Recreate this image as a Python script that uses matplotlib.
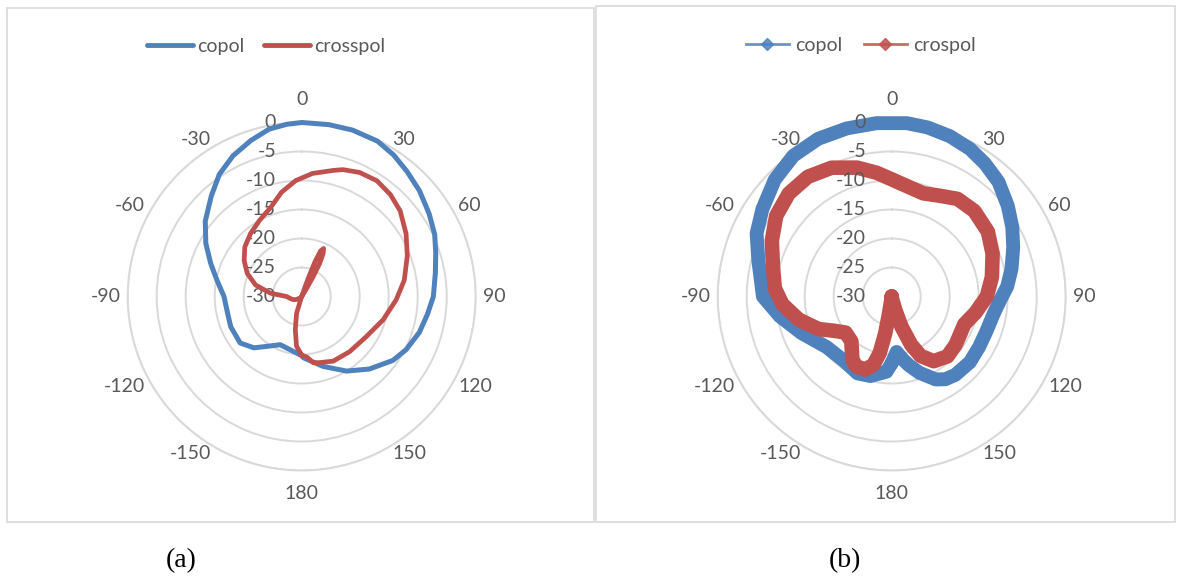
import numpy as np
import matplotlib.pyplot as plt
from matplotlib.lines import Line2D
from matplotlib.patches import Rectangle

# ---- data (angle in deg, level in dB) ----
a_copol_ang = [-180, -168, -156, -145, -137, -127, -113, -102, -90, -79, -70, -61, -52, -42,
               -34, -26, -18, -11, -5, 0, 9, 17, 26, 33, 40, 48, 57, 65, 72, 80, 90, 98,
               107, 117, 125, 137, 149, 163, 178, 180]
a_copol_db = [-19.8, -20.6, -20.9, -19.5, -17.9, -16.7, -16.7, -16.9, -16.6, -15.1, -13.3,
              -11.1, -8.9, -6.7, -4.6, -3.0, -1.7, -0.6, -0.2, 0.0, 0.0, 0.0, -0.2, -0.9,
              -1.8, -2.7, -3.8, -4.7, -5.7, -6.6, -7.3, -8.1, -8.8, -9.8, -10.8, -12.9,
              -15.0, -17.4, -19.4, -19.8]

a_cross_ang = [-180, -174, -169, -163, -161.5, -161, -160, -159, -157.5, -155.5, -153.5,
               -151.5, -150, -148.5, -146, -140, -130, -120, -112, -100, -90, -84, -76, -67,
               -58, -49, -39, -29, -19, -11, -3, 5, 14, 18, 25, 33, 41, 49, 59, 69, 81, 92,
               106, 122, 139, 154, 165, 170, 175, 180]
a_cross_db = [-19.9, -21.4, -24.2, -27.0, -29.8, -31.5, -34.0, -36.5, -38.5, -39.1, -38.3,
              -36.5, -34.0, -31.5, -30.2, -29.8, -29.6, -29.0, -28.5, -28.0, -27.4, -24.6,
              -21.8, -19.8, -18.3, -17.0, -16.0, -15.0, -13.7, -11.7, -10.0, -8.7, -7.6,
              -7.0, -6.4, -6.2, -6.7, -7.5, -9.0, -10.5, -12.1, -13.7, -15.4, -16.9, -17.4,
              -17.6, -18.2, -18.4, -19.5, -19.9]

b_copol_ang = [-180, -176, -165, -156, -143, -128, -112, -100, -90, -75, -65, -56, -45, -35,
               -25, -15, -5, 5, 12, 20, 28, 35, 43, 52, 60, 68, 77, 85, 92, 100, 110, 120,
               130, 141, 147, 152, 160, 166, 170, 175, 180]
b_copol_db = [-18.5, -17.0, -15.8, -15.5, -16.2, -15.8, -13.2, -10.4, -7.8, -6.2, -4.3, -3.1,
              -1.5, -0.4, 0.0, 0.0, 0.0, 0.0, -0.2, -0.6, -1.2, -2.0, -3.0, -4.6, -6.0, -7.4,
              -8.8, -10.0, -11.3, -12.2, -12.6, -12.6, -12.4, -12.6, -13.0, -13.8, -16.0,
              -17.8, -19.0, -20.4, -18.5]

b_cross_ang = [-180, -175, -171, -170, -168, -165, -160, -153, -148, -138, -128, -121, -114,
               -104, -94, -86, -76, -65, -55, -45, -35, -25, -15, -7, 0, 8, 17, 25, 34, 44,
               56, 67, 79, 90, 101, 111, 120, 127, 137, 147, 154, 158, 162, 165, 170, 175, 180]
b_cross_db = [-30.0, -29.5, -26.5, -23.5, -20.0, -17.8, -16.6, -16.5, -17.2, -19.6, -19.9,
              -18.5, -16.2, -13.5, -11.1, -9.8, -8.9, -7.2, -5.7, -4.9, -4.8, -5.5, -7.0,
              -8.5, -9.8, -10.8, -11.4, -10.8, -9.7, -9.5, -10.0, -11.1, -12.4, -13.6, -15.3,
              -16.6, -16.5, -16.2, -15.9, -16.7, -18.6, -21.0, -24.5, -27.5, -29.5, -30.0, -30.0]

theta_ticks = [0, 30, 60, 90, 120, 150, 180, 210, 240, 270, 300, 330]
theta_labels = ['0', '30', '60', '90', '120', '150', '180', '-150', '-120', '-90', '-60', '-30']
r_ticks = [0, -5, -10, -15, -20, -25, -30]

BLUE = '#4F81BD'
RED = '#C0504D'
GRID = '#D9D9D9'
TXT = '#595959'
RMIN, RMAX = -30, 0
W, H = 1179, 579
R_PX = 174

plt.rcParams['font.family'] = ['Lato', 'DejaVu Sans']


def radar(ang, db):
    # Excel radar: values under the axis minimum end up on the opposite side
    th = np.deg2rad(ang)
    db = np.asarray(db, float)
    low = db < RMIN
    return np.where(low, th + np.pi, th), np.where(low, 2 * RMIN - db, db)


def r_at(px):
    return RMIN + (RMAX - RMIN) * px / R_PX


def setup(ax, label_z):
    ax.set_theta_zero_location('N')
    ax.set_theta_direction(-1)
    ax.set_ylim(RMIN, RMAX)
    ax.set_yticks(r_ticks)
    ax.set_yticklabels([])
    ax.set_xticks(np.deg2rad(theta_ticks))
    ax.set_xticklabels([])
    ax.xaxis.grid(False)
    ax.yaxis.grid(True, color=GRID, lw=1.4)
    ax.spines['polar'].set_color(GRID)
    ax.spines['polar'].set_linewidth(1.4)
    ax.tick_params(length=0)
    for a, s in zip(theta_ticks, theta_labels):
        if a in (0, 180):
            ha, rpx = 'center', 197
        elif a < 180:
            ha, rpx = 'left', 181
        else:
            ha, rpx = 'right', 181
        ax.text(np.deg2rad(a), r_at(rpx), s, ha=ha, va='center', fontsize=14,
                color=TXT, zorder=label_z)
    for v in r_ticks:
        ax.annotate(str(v), xy=(0, v), xytext=(-18.5, 0), textcoords='offset points',
                    ha='right', va='center', fontsize=14, color=TXT, zorder=label_z,
                    annotation_clip=False)


fig = plt.figure(figsize=(W / 100, H / 100), dpi=100)

# panel frames
fig.add_artist(Rectangle((7 / W, 57 / H), 587 / W, 514.5 / H, transform=fig.transFigure,
                         fill=False, ec=GRID, lw=1.2))
fig.add_artist(Rectangle((596 / W, 57 / H), 579 / W, 516.5 / H, transform=fig.transFigure,
                         fill=False, ec=GRID, lw=1.2))

cy = 296.5
axa = fig.add_axes([(301.7 - R_PX) / W, (H - cy - R_PX) / H, 2 * R_PX / W, 2 * R_PX / H],
                   projection='polar')
axb = fig.add_axes([(891.7 - R_PX) / W, (H - cy - R_PX) / H, 2 * R_PX / W, 2 * R_PX / H],
                   projection='polar')

# (a)
setup(axa, label_z=3)
t, r = radar(a_copol_ang, a_copol_db)
axa.plot(t, r, color=BLUE, lw=3.6, clip_on=False, zorder=4, solid_joinstyle='round')
t, r = radar(a_cross_ang, a_cross_db)
axa.plot(t, r, color=RED, lw=3.4, clip_on=False, zorder=5, solid_joinstyle='round')

# (b)
setup(axb, label_z=6)
t, r = radar(b_copol_ang, b_copol_db)
axb.plot(t, r, color=BLUE, lw=10, clip_on=False, zorder=4, solid_joinstyle='round',
         solid_capstyle='round')
t, r = radar(b_cross_ang, b_cross_db)
axb.plot(t, r, color=RED, lw=10.5, clip_on=False, zorder=5, solid_joinstyle='round',
         solid_capstyle='round')

# legends
ha_a = [Line2D([], [], color=BLUE, lw=3.5, solid_capstyle='round'),
        Line2D([], [], color=RED, lw=3.5, solid_capstyle='round')]
fig.legend(ha_a, ['copol', 'crosspol'], loc='center', bbox_to_anchor=(266 / W, 1 - 46.5 / H),
           ncol=2, frameon=False, fontsize=14, handlelength=2.37, handletextpad=0.2,
           columnspacing=1.03, borderpad=0, labelcolor=TXT)
ha_b = [Line2D([], [], color=BLUE, lw=2, marker='D', markersize=6, alpha=0.85),
        Line2D([], [], color=RED, lw=2, marker='D', markersize=6, alpha=0.85)]
fig.legend(ha_b, ['copol', 'crospol'], loc='center', bbox_to_anchor=(861 / W, 1 - 45 / H),
           ncol=2, frameon=False, fontsize=14, handlelength=2.2, handletextpad=0.36,
           columnspacing=1.08, borderpad=0, labelcolor=TXT)

# captions
fig.text(181 / W, 1 - 561 / H, '(a)', ha='center', va='center', fontsize=20,
         family='Liberation Serif', color='black')
fig.text(845 / W, 1 - 561 / H, '(b)', ha='center', va='center', fontsize=20,
         family='Liberation Serif', color='black')

fig.savefig('out.png', dpi=100, facecolor='white')
